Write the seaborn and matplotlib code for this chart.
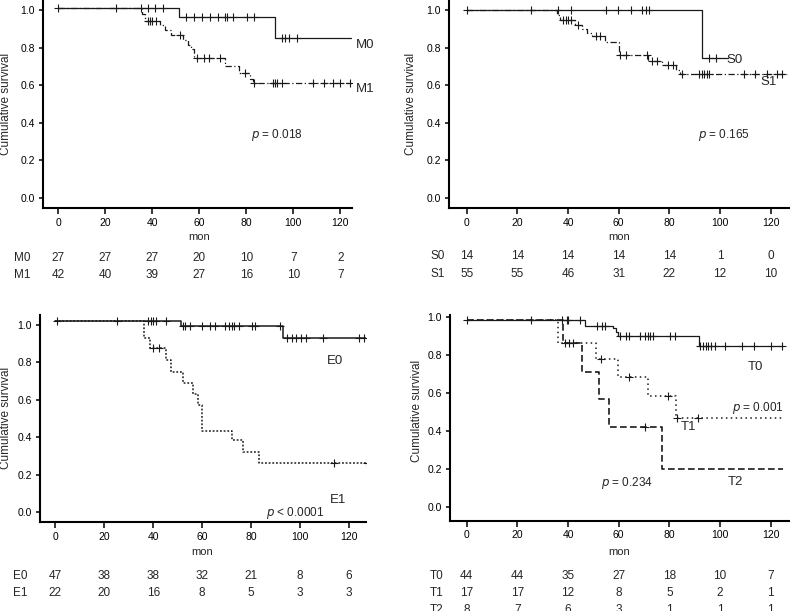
import numpy as np
import matplotlib
matplotlib.use('Agg')
import matplotlib.pyplot as plt
import matplotlib.transforms as mtransforms
import seaborn as sns

sns.set_style('ticks')
plt.rcParams['font.family'] = ['Liberation Sans Narrow', 'Liberation Sans', 'DejaVu Sans']
plt.rcParams['mathtext.fontset'] = 'custom'
plt.rcParams['mathtext.it'] = 'Liberation Sans Narrow:italic'
plt.rcParams['mathtext.rm'] = 'Liberation Sans Narrow'

risk_times = [0, 20, 40, 60, 80, 100, 120]

# --- panel A: M0 / M1 ---
m0_start = 1.012
m0_event_t = [51.4, 92.1]
m0_event_s = [0.961, 0.849]
m0_censor = [0, 24.6, 35, 38.3, 41.3, 44.6, 54.4, 57.9, 61.3, 64.6, 68.1, 71, 71.7,
             74.3, 80.3, 83.1, 95, 96.3, 98.1, 101.6]
m0_end = 124.6

m1_start = 1.012
m1_event_t = [35.5, 37.0, 43.3, 45.5, 48.0, 53.0, 55.0, 56.5, 57.8, 71.0, 76.8, 81.5, 82.9]
m1_event_s = [0.976, 0.943, 0.92, 0.895, 0.868, 0.84, 0.815, 0.79, 0.743, 0.70, 0.665, 0.635, 0.61]
m1_censor = [38, 39, 40, 41.5, 52, 59.2, 62, 64, 69, 79.5, 83.5, 91.4, 92.1, 92.9, 95,
             108.6, 112.9, 116.9, 120, 124.3]
m1_end = 124.6

m0_risk = [27, 27, 27, 20, 10, 7, 2]
m1_risk = [42, 40, 39, 27, 16, 10, 7]

# --- panel B: S0 / S1 ---
s0_start = 1.0
s0_event_t = [92.9]
s0_event_s = [0.745]
s0_censor = [0, 25.3, 35.9, 41.2, 55, 59.6, 65, 69.2, 70.8, 72, 95.8, 98.4]
s0_end = 103.3

s1_start = 1.0
s1_event_t = [35.8, 37.0, 42.8, 45.5, 47.5, 49.5, 54.5, 60.0, 71.6, 77.0, 82.6, 84.0]
s1_event_s = [0.975, 0.945, 0.92, 0.90, 0.88, 0.86, 0.83, 0.76, 0.73, 0.705, 0.68, 0.658]
s1_censor = [38, 39, 40, 41, 44, 51, 52.5, 60.5, 62.7, 71, 73, 75, 79.3, 81.3, 85, 91.7,
             92.8, 93.8, 94.8, 95.8, 109.6, 113.6, 118.6, 122.4, 124.3]
s1_end = 126.3

s0_risk = [14, 14, 14, 14, 14, 1, 0]
s1_risk = [55, 55, 46, 31, 22, 12, 10]

# --- panel C: E0 / E1 ---
e0_start = 1.019
e0_event_t = [51.2, 92.9]
e0_event_s = [0.994, 0.93]
e0_censor = [0.6, 25.3, 38.0, 39.0, 40.1, 41.1, 45.2, 52.3, 53.0, 55.0, 60.0, 63.2, 65.2,
             69.3, 71.1, 72.1, 73.1, 75.2, 80.2, 81.6, 91.8, 94.8, 96.5, 98.3, 100.5,
             102.3, 109.5, 124.2, 125.9]
e0_end = 127.2

e1_start = 1.019
e1_event_t = [36.2, 38.7, 45.2, 47.1, 52.3, 56.4, 58.2, 59.8, 72.1, 76.8, 83.2]
e1_event_s = [0.927, 0.877, 0.811, 0.749, 0.687, 0.629, 0.572, 0.435, 0.385, 0.323, 0.264]
e1_censor = [39.8, 42.3, 114.0, 127.2]
e1_end = 127.8

e0_risk = [47, 38, 38, 32, 21, 8, 6]
e1_risk = [22, 20, 16, 8, 5, 3, 3]

# --- panel D: T0 / T1 / T2 ---
t0_start = 0.986
t0_event_t = [46.7, 57.9, 58.9, 59.6, 91.7]
t0_event_s = [0.956, 0.942, 0.924, 0.901, 0.848]
t0_censor = [0, 25.4, 37.8, 39.4, 40, 44.6, 51.3, 53.3, 54.6, 60.5, 62.9, 64.2, 68.4,
             70.4, 71.5, 72.4, 73.4, 80.3, 82.2, 92.1, 93.4, 94.4, 95.4, 96.4, 98, 102,
             108.6, 113.2, 120, 124.3]
t0_end = 125.0

t1_start = 0.986
t1_event_t = [36.2, 51.0, 59.9, 71.7, 82.6]
t1_event_s = [0.866, 0.778, 0.683, 0.586, 0.47]
t1_censor = [38.8, 40.4, 42.1, 52.9, 64.2, 79.6, 83.1, 91.4]
t1_end = 124.7

t2_start = 0.986
t2_event_t = [38.1, 45.4, 52.4, 56.2, 77.0]
t2_event_s = [0.866, 0.713, 0.567, 0.422, 0.199]
t2_censor = [70.4]
t2_end = 125.0

t0_risk = [44, 44, 35, 27, 18, 10, 7]
t1_risk = [17, 17, 12, 8, 5, 2, 1]
t2_risk = [8, 7, 6, 3, 1, 1, 1]

W, H = 790, 611
ink = '#1a1a1a'
fig = plt.figure(figsize=(W / 100, H / 100), dpi=100)


def fx(px):
    return px / W


def fy(py):
    return 1 - py / H


def make_axes(l, r, t, b, xlim, ylim):
    ax = fig.add_axes([fx(l), fy(b), (r - l) / W, (b - t) / H])
    ax.set_xlim(*xlim)
    ax.set_ylim(*ylim)
    ax.set_xticks(risk_times)
    ax.set_yticks([0, 0.2, 0.4, 0.6, 0.8, 1.0])
    ax.set_yticklabels(['0.0', '0.2', '0.4', '0.6', '0.8', '1.0'])
    sns.despine(ax=ax)
    for sp in ['left', 'bottom']:
        ax.spines[sp].set_linewidth(1.5)
        ax.spines[sp].set_color('black')
    ax.tick_params(axis='x', length=4, width=1.1, pad=3, labelsize=7.5, colors='black')
    ax.tick_params(axis='y', length=3, width=1.1, pad=3, labelsize=7.5, colors='black')
    ax.set_xlabel('')
    ax.set_ylabel('')
    return ax


def km(ax, start, ev_t, ev_s, end, censor, ls, lw=0.9):
    t = [0] + list(ev_t) + [end]
    s = [start] + list(ev_s) + [ev_s[-1]]
    sns.lineplot(x=t, y=s, drawstyle='steps-post', color=ink, lw=lw, linestyle=ls,
                 estimator=None, ax=ax)
    idx = np.searchsorted(t, censor, side='right') - 1
    sns.scatterplot(x=censor, y=np.array(s)[idx], marker='+', s=26, color=ink,
                    linewidth=0.8, ax=ax, zorder=3)


def risk_table(ax, rows, names, ys_px, name_x, mon_py, ylab_px):
    tr = mtransforms.blended_transform_factory(ax.transData, fig.transFigure)
    for vals, name, py in zip(rows, names, ys_px):
        ax.text(name_x, fy(py), name, transform=tr, ha='center', va='center',
                fontsize=8.5, clip_on=False)
        for tt, v in zip(risk_times, vals):
            ax.text(tt, fy(py), str(v), transform=tr, ha='center', va='center',
                    fontsize=8.5, clip_on=False)
    ax.text(60, fy(mon_py), 'mon', transform=tr, ha='center', va='center', fontsize=8)
    fig.text(fx(ylab_px[0]), fy(ylab_px[1]), 'Cumulative survival', rotation=90,
             ha='center', va='center', fontsize=8.5)


dashdot = (0, (5, 2, 1, 2))

# panel A
ax1 = make_axes(43, 352, 0, 208, (-6.5, 125), (-0.053, 1.053))
km(ax1, m0_start, m0_event_t, m0_event_s, m0_end, m0_censor, '-')
km(ax1, m1_start, m1_event_t, m1_event_s, m1_end, m1_censor, dashdot)
ax1.text(130.4, 0.814, 'M0', ha='center', va='center', fontsize=9.5, clip_on=False)
ax1.text(130.4, 0.578, 'M1', ha='center', va='center', fontsize=9.5, clip_on=False)
ax1.text(93.2, 0.335, '$p$ = 0.018', ha='center', va='center', fontsize=8.5)
risk_table(ax1, [m0_risk, m1_risk], ['M0', 'M1'], [257.7, 275], -15.4, 236.7, (6, 104))

# panel B
ax2 = make_axes(449, 790, 0, 208, (-7.0, 127.6), (-0.053, 1.053))
km(ax2, s0_start, s0_event_t, s0_event_s, s0_end, s0_censor, '-')
km(ax2, s1_start, s1_event_t, s1_event_s, s1_end, s1_censor, dashdot)
ax2.text(105.6, 0.734, 'S0', ha='center', va='center', fontsize=9.5, clip_on=False)
ax2.text(119, 0.617, 'S1', ha='center', va='center', fontsize=9.5, clip_on=False)
ax2.text(101.6, 0.335, '$p$ = 0.165', ha='center', va='center', fontsize=8.5)
risk_table(ax2, [s0_risk, s1_risk], ['S0', 'S1'], [256, 274], -11.4, 236.7, (411, 104))

# panel C
ax3 = make_axes(40, 366, 315, 522, (-6.25, 126.9), (-0.052, 1.051))
km(ax3, e0_start, e0_event_t, e0_event_s, e0_end, e0_censor, '-', lw=1.1)
km(ax3, e1_start, e1_event_t, e1_event_s, e1_end, e1_censor, (0, (1.2, 1.2)), lw=1.1)
ax3.text(114.3, 0.806, 'E0', ha='center', va='center', fontsize=9.5, clip_on=False)
ax3.text(115.6, 0.066, 'E1', ha='center', va='center', fontsize=9.5, clip_on=False)
ax3.text(97.9, -0.005, '$p$ < 0.0001', ha='center', va='center', fontsize=8.5)
risk_table(ax3, [e0_risk, e1_risk], ['E0', 'E1'], [576, 593], -14.4, 552, (6, 418))

# panel D
ax4 = make_axes(450, 790, 315, 520.7, (-6.6, 127.6), (-0.074, 1.012))
km(ax4, t0_start, t0_event_t, t0_event_s, t0_end, t0_censor, '-')
km(ax4, t1_start, t1_event_t, t1_event_s, t1_end, t1_censor, (0, (1, 2.2)), lw=1.1)
km(ax4, t2_start, t2_event_t, t2_event_s, t2_end, t2_censor, (0, (4, 2)), lw=1.2)
ax4.text(113.8, 0.739, 'T0', ha='center', va='center', fontsize=9.5, clip_on=False)
ax4.text(87.5, 0.422, 'T1', ha='center', va='center', fontsize=9.5, clip_on=False)
ax4.text(105.9, 0.132, 'T2', ha='center', va='center', fontsize=9.5, clip_on=False)
ax4.text(114.9, 0.52, '$p$ = 0.001', ha='center', va='center', fontsize=8.5)
ax4.text(63.2, 0.124, '$p$ = 0.234', ha='center', va='center', fontsize=8.5)
risk_table(ax4, [t0_risk, t1_risk, t2_risk], ['T0', 'T1', 'T2'], [576, 593, 610],
           -11.8, 552, (417, 411))

for ax in [ax1, ax2, ax3, ax4]:
    leg = ax.get_legend()
    if leg is not None:
        leg.remove()

fig.savefig('out.png', dpi=100)
